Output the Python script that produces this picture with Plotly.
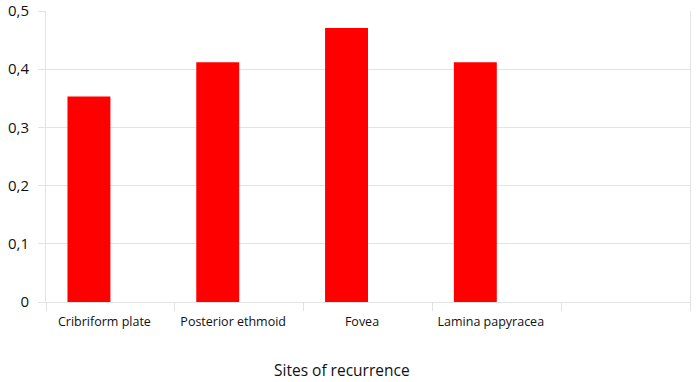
import plotly.graph_objects as go

categories = ["Cribriform plate", "Posterior ethmoid", "Fovea", "Lamina papyracea", " "]
values = [0.353, 0.412, 0.471, 0.412, None]
ytick_vals = [0, 0.1, 0.2, 0.3, 0.4, 0.5]
ytick_text = ["0", "0,1", "0,2", "0,3", "0,4", "0,5"]
x_title = "Sites of recurrence"

GRID = "#e3e3e3"
FONT = "Open Sans"

fig = go.Figure()
fig.add_trace(go.Bar(
    x=categories, y=values,
    width=1/3, offset=-1/3,
    marker=dict(color="#ff0000", line=dict(width=0)),
    hoverinfo="x+y",
))

fig.update_layout(
    width=700, height=382,
    margin=dict(l=46, r=10, t=11, b=80, autoexpand=False),
    paper_bgcolor="white", plot_bgcolor="white",
    showlegend=False,
    font=dict(family=FONT, color="#111111"),
    xaxis=dict(
        type="category",
        automargin=False,
        tickson="boundaries",
        ticks="outside", ticklen=8, tickcolor=GRID, tickwidth=1,
        showline=True, linecolor=GRID, linewidth=1,
        showgrid=False,
        tickfont=dict(size=12.5, family=FONT, color="#111111"),
        ticklabelshift=-6,
        ticklabelstandoff=8,
    ),
    yaxis=dict(
        range=[0, 0.5],
        automargin=False,
        tickvals=ytick_vals, ticktext=ytick_text,
        ticks="outside", ticklen=7, tickcolor=GRID, tickwidth=1,
        showline=True, linecolor=GRID, linewidth=1, mirror=True,
        showgrid=True, gridcolor=GRID, gridwidth=1,
        zeroline=False,
        tickfont=dict(size=15, family=FONT, color="#111111"),
        ticklabelstandoff=6,
    ),
    annotations=[dict(
        text=x_title, xref="paper", yref="paper",
        x=(342 - 46) / (690 - 46), y=-(370 - 302) / (302 - 11),
        xanchor="center", yanchor="middle", showarrow=False,
        font=dict(size=15.5, family=FONT, color="#111111"),
    )],
)

fig.write_html(
    "out.html",
    config={"displayModeBar": False},
    post_script="document.body.style.margin='0';document.body.style.overflow='hidden';",
)
